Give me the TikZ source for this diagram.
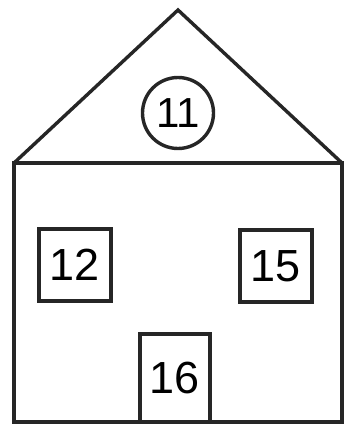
\documentclass[tikz,border=0pt]{standalone}
\usepackage{fontspec}
\setmainfont{Liberation Sans}
\tikzset{
  wall/.style  ={draw=black!85,line width=3.4pt,line join=miter},
  win/.style   ={rectangle,draw=black!85,line width=3.8pt,minimum size=72pt,
                 inner sep=0pt,font=\fontsize{45}{45}\selectfont},
  door/.style  ={win,minimum width=70pt,minimum height=88pt},
  ring/.style  ={circle,draw=black!85,line width=3.4pt,minimum size=71pt,
                 inner sep=0pt,font=\fontsize{42}{42}\selectfont},
}
\begin{document}
\begin{tikzpicture}[x=1pt,y=-1pt]
\useasboundingbox (0,0) rectangle (344,425);

\coordinate (eaveL) at (14,163);
\coordinate (eaveR) at (342,163);
\coordinate (top)   at (178,10);
\coordinate (foot)  at (342,422);

%% roof and walls
\draw[wall] (eaveL) -- (top) -- (eaveR);
\draw[wall] (eaveL) rectangle (foot);

\node[ring] (n11) at (178,113) {11};
\node[win]  (n12) at (75,265)  {12};
\node[win]  (n15) at (276,266) {15};
\node[door] (n16) at (175,378) {\raisebox{-4pt}{16}};

\end{tikzpicture}
\end{document}
